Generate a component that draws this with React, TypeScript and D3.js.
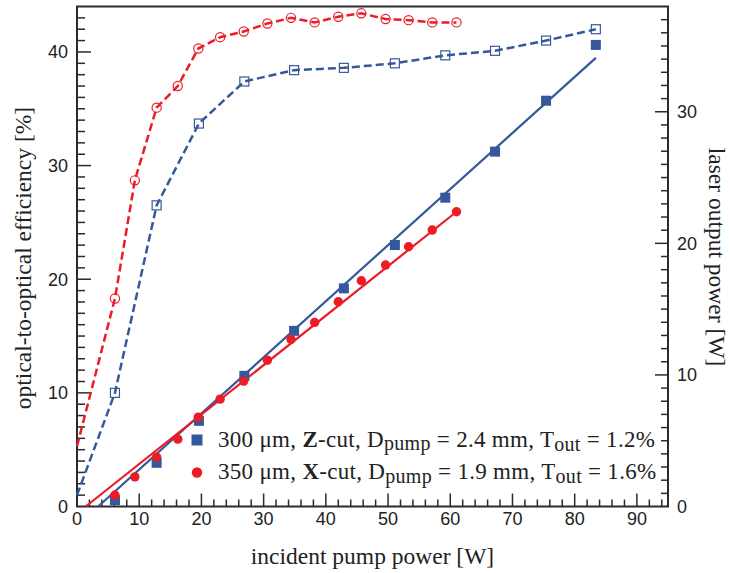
import React, { useEffect, useRef } from 'react';
import * as d3 from 'd3';

// incident pump power [W] and measured values
const pumpRed = [6.1, 9.3, 12.8, 16.2, 19.5, 23.0, 26.8, 30.6, 34.4, 38.2, 42.0, 45.7, 49.6, 53.3, 57.1, 61.0];
const effRed = [18.3, 28.7, 35.1, 37.0, 40.3, 41.3, 41.8, 42.5, 43.0, 42.6, 43.1, 43.4, 42.9, 42.8, 42.6, 42.6];
const outRed = [0.86, 2.25, 3.75, 5.12, 6.79, 8.16, 9.53, 11.12, 12.7, 13.99, 15.56, 17.16, 18.35, 19.74, 21.01, 22.4];

const pumpBlue = [6.1, 12.8, 19.6, 26.9, 34.9, 42.9, 51.1, 59.2, 67.2, 75.4, 83.4];
const effBlue = [10.0, 26.5, 33.7, 37.4, 38.4, 38.6, 39.0, 39.7, 40.1, 41.0, 42.0];
const outBlue = [0.48, 3.32, 6.51, 9.93, 13.35, 16.58, 19.87, 23.47, 26.97, 30.84, 35.08];

// dashed curves start on the left axis
const effRedStart: [number, number] = [0, 5.3];
const effBlueStart: [number, number] = [0, 1.0];

// linear fits of output power
const fitBlue: [number, number][] = [[3.4, 0], [83.4, 34.1]];
const fitRed: [number, number][] = [[1.4, 0], [61.0, 22.4]];

const xTicks = [0, 10, 20, 30, 40, 50, 60, 70, 80, 90];
const yLeftTicks = [0, 10, 20, 30, 40];
const yRightTicks = [0, 10, 20, 30];

const BLUE = '#34589b';
const RED = '#ec1c24';
const AXIS = '#2b2b2b';
const SANS = '"Liberation Sans", Arial, sans-serif';
const SERIF = '"Liberation Serif", "Times New Roman", serif';

const App = () => {
    const ref = useRef<SVGSVGElement>(null);

    useEffect(() => {
        const width = 730;
        const height = 573;
        const margin = { top: 6.5, right: 62, bottom: 66.5, left: 77 };

        const svg = d3.select(ref.current);
        svg.selectAll('*').remove();
        svg.attr('width', width).attr('height', height);

        const x = d3.scaleLinear().domain([0, 95]).range([margin.left, width - margin.right]);
        const yL = d3.scaleLinear().domain([0, 44]).range([height - margin.bottom, margin.top]);
        const yR = d3.scaleLinear().domain([0, 38]).range([height - margin.bottom, margin.top]);

        const x0 = margin.left;
        const x1 = width - margin.right;
        const y0 = height - margin.bottom;
        const y1 = margin.top;

        const axisG = svg.append('g').attr('stroke', AXIS).attr('stroke-width', 2);

        // frame
        axisG.append('path')
            .attr('d', `M${x0},${y1}H${x1}V${y0}H${x0}Z`)
            .attr('fill', 'none');

        // bottom ticks (inward)
        d3.range(0, 95, 2).forEach(v => {
            const major = v % 10 === 0;
            axisG.append('line')
                .attr('x1', x(v)).attr('x2', x(v))
                .attr('y1', y0).attr('y2', y0 - (major ? 13 : 7))
                .attr('stroke-width', 1.5);
        });
        // left ticks
        d3.range(1, 44, 1).forEach(v => {
            const major = v % 10 === 0;
            axisG.append('line')
                .attr('x1', x0).attr('x2', x0 + (major ? 14 : 8))
                .attr('y1', yL(v)).attr('y2', yL(v))
                .attr('stroke-width', 1.5);
        });
        // right ticks
        d3.range(1, 38, 1).forEach(v => {
            const major = v % 10 === 0;
            axisG.append('line')
                .attr('x1', x1).attr('x2', x1 - (major ? 13 : 7))
                .attr('y1', yR(v)).attr('y2', yR(v))
                .attr('stroke-width', 1.5);
        });

        const labelG = svg.append('g')
            .attr('font-family', SANS)
            .attr('font-size', 18)
            .attr('fill', '#222');

        labelG.selectAll('.xl').data(xTicks).enter().append('text')
            .attr('x', d => x(d)).attr('y', 524.5)
            .attr('text-anchor', 'middle')
            .text(d => d);
        labelG.selectAll('.yl').data(yLeftTicks).enter().append('text')
            .attr('x', 68).attr('y', d => yL(d)).attr('dy', '0.36em')
            .attr('text-anchor', 'end')
            .text(d => d);
        labelG.selectAll('.yr').data(yRightTicks).enter().append('text')
            .attr('x', 677).attr('y', d => yR(d)).attr('dy', '0.36em')
            .attr('text-anchor', 'start')
            .text(d => d);

        // axis titles
        const titleG = svg.append('g')
            .attr('font-family', SERIF)
            .attr('font-size', 23.5)
            .attr('fill', '#222');
        titleG.append('text')
            .attr('x', (x0 + x1) / 2).attr('y', 564)
            .attr('text-anchor', 'middle')
            .text('incident pump power [W]');
        titleG.append('text')
            .attr('transform', `translate(31, 258) rotate(-90)`)
            .attr('text-anchor', 'middle')
            .text('optical-to-optical efficiency [%]');
        titleG.append('text')
            .attr('transform', `translate(709, 257) rotate(90)`)
            .attr('text-anchor', 'middle')
            .text('laser output power [W]');

        // efficiency curves (dashed)
        const effLine = d3.line<[number, number]>()
            .x(d => x(d[0]))
            .y(d => yL(d[1]));

        const redEff: [number, number][] = [effRedStart, ...pumpRed.map((p, i) => [p, effRed[i]] as [number, number])];
        const blueEff: [number, number][] = [effBlueStart, ...pumpBlue.map((p, i) => [p, effBlue[i]] as [number, number])];

        svg.append('path')
            .attr('d', effLine(blueEff))
            .attr('fill', 'none')
            .attr('stroke', BLUE)
            .attr('stroke-width', 2.5)
            .attr('stroke-dasharray', '8,4');
        svg.append('path')
            .attr('d', effLine(redEff))
            .attr('fill', 'none')
            .attr('stroke', RED)
            .attr('stroke-width', 2.5)
            .attr('stroke-dasharray', '8,4');

        svg.selectAll('.openSq').data(blueEff.slice(1)).enter().append('rect')
            .attr('x', d => x(d[0]) - 4.5)
            .attr('y', d => yL(d[1]) - 4.5)
            .attr('width', 9).attr('height', 9)
            .attr('fill', 'none')
            .attr('stroke', BLUE)
            .attr('stroke-width', 1.2);
        svg.selectAll('.openCi').data(redEff.slice(1)).enter().append('circle')
            .attr('cx', d => x(d[0]))
            .attr('cy', d => yL(d[1]))
            .attr('r', 4.6)
            .attr('fill', 'none')
            .attr('stroke', RED)
            .attr('stroke-width', 1.2);

        // output power fits (right axis)
        const outLine = d3.line<[number, number]>()
            .x(d => x(d[0]))
            .y(d => yR(d[1]));

        svg.append('path')
            .attr('d', outLine(fitBlue))
            .attr('fill', 'none')
            .attr('stroke', BLUE)
            .attr('stroke-width', 2.2);
        svg.append('path')
            .attr('d', outLine(fitRed))
            .attr('fill', 'none')
            .attr('stroke', RED)
            .attr('stroke-width', 2.2);

        svg.selectAll('.solidSq').data(pumpBlue).enter().append('rect')
            .attr('x', (d, i) => x(d) - 5)
            .attr('y', (d, i) => yR(outBlue[i]) - 5)
            .attr('width', 10).attr('height', 10)
            .attr('fill', BLUE);
        svg.selectAll('.solidCi').data(pumpRed).enter().append('circle')
            .attr('cx', d => x(d))
            .attr('cy', (d, i) => yR(outRed[i]))
            .attr('r', 4.7)
            .attr('fill', RED);

        // legend
        const legend = svg.append('g')
            .attr('font-family', SERIF)
            .attr('font-size', 23)
            .attr('letter-spacing', 0.3)
            .attr('fill', '#222');

        legend.append('rect')
            .attr('x', 191.5).attr('y', 434.5)
            .attr('width', 11).attr('height', 11)
            .attr('fill', BLUE);
        legend.append('circle')
            .attr('cx', 197).attr('cy', 472.5).attr('r', 5.2)
            .attr('fill', RED);

        const legendRows = [
            { y: 446.7, a: '300 μm, ', b: 'Z', c: '-cut, D', d: ' = 2.4 mm, T', e: ' = 1.2%' },
            { y: 479, a: '350 μm, ', b: 'X', c: '-cut, D', d: ' = 1.9 mm, T', e: ' = 1.6%' }
        ];
        legendRows.forEach(r => {
            const t = legend.append('text').attr('x', 218).attr('y', r.y);
            t.append('tspan').text(r.a);
            t.append('tspan').attr('font-weight', 'bold').text(r.b);
            t.append('tspan').text(r.c);
            t.append('tspan').attr('font-size', 20).attr('dy', 3.5).text('pump');
            t.append('tspan').attr('dy', -3.5).text(r.d);
            t.append('tspan').attr('font-size', 20).attr('dy', 4).text('out');
            t.append('tspan').attr('dy', -4).text(r.e);
        });
    }, []);

    return (
        <div className="container" style={{ position: 'absolute', left: 0, top: 0 }}>
            <svg ref={ref} style={{ display: 'block' }}></svg>
        </div>
    );
};

export default App;
